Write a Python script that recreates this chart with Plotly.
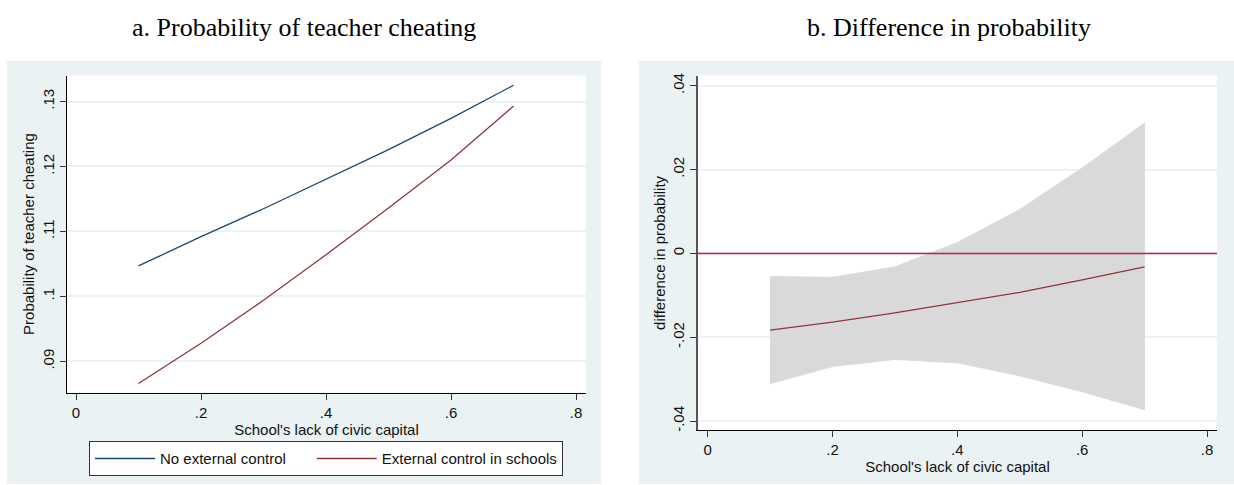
import plotly.graph_objects as go

# Predicted probability of teacher cheating by school's lack of civic capital
civic = [0.1, 0.2, 0.3, 0.4, 0.5, 0.6, 0.7]
p_no_control = [0.1047, 0.1092, 0.1135, 0.1180, 0.1226, 0.1274, 0.1325]
p_external = [0.0866, 0.0928, 0.0994, 0.1064, 0.1136, 0.1210, 0.1293]

# Difference in probability with confidence band
diff = [-0.0183, -0.0164, -0.0142, -0.0118, -0.0093, -0.0063, -0.0032]
diff_hi = [-0.0055, -0.0057, -0.0032, 0.0026, 0.0105, 0.0204, 0.0311]
diff_lo = [-0.0311, -0.0270, -0.0253, -0.0261, -0.0292, -0.0330, -0.0373]

x_ticks = [0, 0.2, 0.4, 0.6, 0.8]
x_ticktext = ["0", ".2", ".4", ".6", ".8"]
ya_ticks = [0.09, 0.10, 0.11, 0.12, 0.13]
ya_ticktext = [".09", ".1", ".11", ".12", ".13"]
yb_ticks = [-0.04, -0.02, 0.0, 0.02, 0.04]
yb_ticktext = ["-.04", "-.02", "0", ".02", ".04"]

W, H = 1234, 485
NAVY = "#1a476f"
MAROON = "#90353b"
BG = "#eaf2f3"
SANS = "Liberation Sans, Arial, sans-serif"
SERIF = "Liberation Serif, Times New Roman, serif"
GAP = "\u00a0" * 5  # extra spacing after the first legend entry


def px_x(p):
    return p / W


def px_y(p):
    return 1 - p / H


fig = go.Figure()

fig.add_trace(go.Scatter(x=civic, y=p_no_control, mode="lines", name="No external control" + GAP,
                         line=dict(color=NAVY, width=1.3), xaxis="x", yaxis="y"))
fig.add_trace(go.Scatter(x=civic, y=p_external, mode="lines", name="External control in schools",
                         line=dict(color=MAROON, width=1.3), xaxis="x", yaxis="y"))

# confidence band as a closed polygon
fig.add_trace(go.Scatter(x=civic + civic[::-1], y=diff_hi + diff_lo[::-1], mode="lines",
                         fill="toself", fillcolor="#d9d9d9", line=dict(color="#dcdcdc", width=1),
                         showlegend=False, hoverinfo="skip", xaxis="x2", yaxis="y2"))
fig.add_trace(go.Scatter(x=civic, y=diff, mode="lines", line=dict(color=MAROON, width=1.3),
                         showlegend=False, xaxis="x2", yaxis="y2"))

# zero reference line across the right panel
fig.add_shape(type="line", xref="x2 domain", yref="y2", x0=0, x1=1, y0=0, y1=0,
              line=dict(color="#c81e44", width=1.5), layer="above")

# panel backgrounds
fig.add_shape(type="rect", xref="paper", yref="paper", x0=px_x(7), x1=px_x(601),
              y0=0, y1=px_y(59), fillcolor=BG, line=dict(width=0), layer="below")
fig.add_shape(type="rect", xref="paper", yref="paper", x0=px_x(639), x1=1,
              y0=0, y1=px_y(59), fillcolor=BG, line=dict(width=0), layer="below")
# white plot regions
fig.add_shape(type="rect", xref="x domain", yref="y domain", x0=0, x1=1, y0=0, y1=1,
              fillcolor="white", line=dict(width=0), layer="below")
fig.add_shape(type="rect", xref="x2 domain", yref="y2 domain", x0=0, x1=1, y0=0, y1=1,
              fillcolor="white", line=dict(width=0), layer="below")

axis_font = dict(family=SANS, size=15, color="#111")
common_x = dict(tickvals=x_ticks, ticktext=x_ticktext, showline=True, linecolor="black",
                linewidth=1.3, ticks="outside", ticklen=6, tickcolor="#333", showgrid=False,
                zeroline=False, tickfont=axis_font)
common_y = dict(tickangle=-90, showline=True, ticks="outside", ticklen=6, tickcolor="#333",
                showgrid=True, gridcolor=BG, gridwidth=1.5, zeroline=False, tickfont=axis_font)

fig.update_layout(
    width=W, height=H, margin=dict(l=0, r=0, t=0, b=0),
    paper_bgcolor="white", plot_bgcolor="rgba(0,0,0,0)",
    font=dict(family=SANS, size=15, color="#111"),
    xaxis=dict(domain=[px_x(67), px_x(586)], range=[-0.0144, 0.816], anchor="y",
               title=dict(text="School's lack of civic capital", font=axis_font, standoff=0),
               **common_x),
    yaxis=dict(domain=[px_y(393), px_y(74)], range=[0.0852, 0.134], anchor="x",
               tickvals=ya_ticks, ticktext=ya_ticktext, linecolor="black", linewidth=1.3,
               title=dict(text="Probability of teacher cheating", font=axis_font, standoff=1),
               **common_y),
    xaxis2=dict(domain=[px_x(698), px_x(1217)], range=[-0.0154, 0.816], anchor="y2",
                title=dict(text="School's lack of civic capital", font=axis_font, standoff=0),
                **common_x),
    yaxis2=dict(domain=[px_y(431), px_y(74)], range=[-0.0422, 0.04244], anchor="x2",
                tickvals=yb_ticks, ticktext=yb_ticktext, linecolor="#555", linewidth=1.5,
                title=dict(text="difference in probability", font=axis_font, standoff=1),
                **common_y),
    showlegend=True,
    legend=dict(orientation="h", x=px_x(89), y=px_y(442), xanchor="left", yanchor="top",
                bgcolor="white", bordercolor="#333", borderwidth=1,
                font=dict(family=SANS, size=15, color="#111"),
                itemwidth=60, tracegroupgap=0),
)

fig.add_annotation(text="a. Probability of teacher cheating", xref="paper", yref="paper",
                   x=px_x(304), y=px_y(26), xanchor="center", yanchor="middle", showarrow=False,
                   font=dict(family=SERIF, size=26, color="black"))
fig.add_annotation(text="b. Difference in probability", xref="paper", yref="paper",
                   x=px_x(949), y=px_y(26), xanchor="center", yanchor="middle", showarrow=False,
                   font=dict(family=SERIF, size=26, color="black"))

fig.write_html("out.html")
